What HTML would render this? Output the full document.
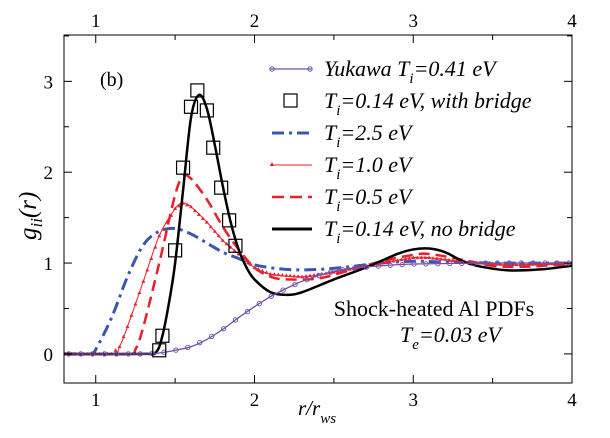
<!DOCTYPE html>
<html><head><meta charset="utf-8"><style>
body{margin:0;background:#fff}
svg text{font-family:"Liberation Serif",serif}
</style></head><body>
<svg id="c" width="610" height="433" xmlns="http://www.w3.org/2000/svg"></svg>
<script>
const xTicks=[1,2,3,4];
const yTicks=[0,1,2,3];
const blackX=[0.8,1.3,1.38,1.42,1.46,1.5,1.55,1.6,1.65,1.7,1.75,1.8,1.85,1.9,1.95,2.0,2.1,2.2,2.3,2.5,2.7,2.9,3.0,3.1,3.2,3.3,3.4,3.6,3.8,4.0];
const blackY=[0,0,0.02,0.2,0.55,1.0,1.8,2.6,2.85,2.7,2.3,1.85,1.45,1.15,0.95,0.82,0.68,0.65,0.68,0.82,0.95,1.1,1.15,1.16,1.12,1.03,0.97,0.92,0.93,0.97];
const sqX=[1.40,1.42,1.5,1.55,1.6,1.64,1.7,1.74,1.79,1.84,1.88];
const sqY=[0.04,0.2,1.14,2.05,2.72,2.9,2.68,2.27,1.83,1.47,1.19];
const blueX=[0.8,0.97,1.0,1.1,1.2,1.3,1.4,1.5,1.6,1.7,1.8,1.9,2.0,2.2,2.4,2.6,2.8,3.0,3.2,3.5,4.0];
const blueY=[0,0,0.05,0.4,0.85,1.2,1.35,1.38,1.32,1.22,1.12,1.05,0.98,0.93,0.93,0.96,1.0,1.02,1.01,1.0,1.0];
const tri1X=[0.8,1.1,1.15,1.2,1.3,1.4,1.5,1.55,1.6,1.7,1.8,1.9,2.0,2.1,2.3,2.5,2.8,3.0,3.1,3.3,3.6,4.0];
const tri1Y=[0,0,0.08,0.3,0.8,1.3,1.6,1.66,1.62,1.45,1.25,1.1,0.95,0.88,0.85,0.9,1.0,1.06,1.06,1.02,0.98,1.0];
const d05X=[0.8,1.2,1.25,1.3,1.4,1.5,1.55,1.6,1.7,1.8,1.9,2.0,2.1,2.2,2.4,2.6,2.8,3.0,3.1,3.3,3.5,3.7,4.0];
const d05Y=[0,0,0.05,0.3,1.0,1.75,1.95,1.93,1.7,1.4,1.15,0.95,0.85,0.82,0.83,0.92,1.02,1.09,1.1,1.04,0.97,0.96,0.99];
const yukX=[0.8,1.3,1.4,1.5,1.6,1.7,1.8,1.9,2.0,2.1,2.2,2.3,2.4,2.5,2.6,2.8,3.0,3.5,4.0];
const yukY=[0,0,0.01,0.04,0.08,0.16,0.27,0.4,0.52,0.63,0.72,0.8,0.86,0.91,0.94,0.97,0.99,1.0,1.0];

const L=64,R=572,T=35,B=383,X0=0.8,X1=4,Y0=-0.32,Y1=3.51;
const sx=v=>L+(v-X0)/(X1-X0)*(R-L);
const sy=v=>B-(v-Y0)/(Y1-Y0)*(B-T);
const svg=document.getElementById('c');
const NS='http://www.w3.org/2000/svg';
function mk(tag,attrs,parent){const e=document.createElementNS(NS,tag);for(const k in attrs)e.setAttribute(k,attrs[k]);(parent||svg).appendChild(e);return e;}
function smooth(xs,ys){
  const p=xs.map((x,i)=>[sx(x),sy(ys[i])]);let d='M'+p[0][0]+','+p[0][1];
  for(let i=0;i<p.length-1;i++){const p0=p[Math.max(0,i-1)],p1=p[i],p2=p[i+1],p3=p[Math.min(p.length-1,i+2)];
    const c1=[p1[0]+(p2[0]-p0[0])/6,p1[1]+(p2[1]-p0[1])/6],c2=[p2[0]-(p3[0]-p1[0])/6,p2[1]-(p3[1]-p1[1])/6];
    d+=`C${c1[0]},${c1[1]} ${c2[0]},${c2[1]} ${p2[0]},${p2[1]}`;}
  return d;}
function interp(xs,ys,x){for(let i=0;i<xs.length-1;i++){if(x>=xs[i]&&x<=xs[i+1]){const t=(x-xs[i])/(xs[i+1]-xs[i]);return ys[i]+t*(ys[i+1]-ys[i]);}}return ys[ys.length-1];}
const defs=mk('defs',{});const cp=mk('clipPath',{id:'clip'},defs);mk('rect',{x:L,y:T,width:R-L,height:B-T},cp);
const g=mk('g',{'clip-path':'url(#clip)'});

let e;
e=mk('path',{d:smooth(blueX,blueY),fill:'none',stroke:'#3a56b0','stroke-width':3,'stroke-dasharray':'12,5,3,5'},g);

e=mk('path',{d:smooth(d05X,d05Y),fill:'none',stroke:'#e8202a','stroke-width':2.5,'stroke-dasharray':'11,6'},g);

e=mk('path',{d:smooth(tri1X,tri1Y),fill:'none',stroke:'#e8202a','stroke-width':1},g);

for(let x=0.8;x<=4.001;x+=0.025){const y=interp(tri1X,tri1Y,x);const cx=sx(x),cy=sy(y);
  e=mk('path',{d:`M${cx-2},${cy+1.5}L${cx+2},${cy+1.5}L${cx},${cy-2}Z`,fill:'#e8202a'},g);
  }
e=mk('path',{d:smooth(blackX,blackY),fill:'none',stroke:'#000','stroke-width':2.5},g);

e=mk('path',{d:smooth(yukX,yukY),fill:'none',stroke:'#7050a8','stroke-width':1.3},g);

for(let x=0.83;x<=4.001;x+=0.075){const y=interp(yukX,yukY,x);
  e=mk('circle',{cx:sx(x),cy:sy(y),r:2.2,fill:'none',stroke:'#7050a8','stroke-width':0.9},g);
  }
sqX.forEach((x,i)=>{e=mk('rect',{x:sx(x)-6.5,y:sy(sqY[i])-6.5,width:13,height:13,fill:'none',stroke:'#000','stroke-width':1.2},g);
  });

e=mk('rect',{x:L,y:T,width:R-L,height:B-T,fill:'none',stroke:'#000','stroke-width':1});

for(let v=1;v<=4;v+=0.5){const x=sx(v),len=(v%1===0)?8:5;
  mk('line',{x1:x,y1:B,x2:x,y2:B-len,stroke:'#000'});mk('line',{x1:x,y1:T,x2:x,y2:T+len,stroke:'#000'});}
for(let v=0;v<=3.5;v+=0.5){const y=sy(v),len=(v%1===0)?8:5;
  mk('line',{x1:L,y1:y,x2:L+len,y2:y,stroke:'#000'});mk('line',{x1:R,y1:y,x2:R-len,y2:y,stroke:'#000'});}
xTicks.forEach(v=>{
  e=mk('text',{x:sx(v),y:406,'font-size':19,'text-anchor':'middle'});e.textContent=v;
  
  e=mk('text',{x:sx(v),y:27,'font-size':19,'text-anchor':'middle'});e.textContent=v;
  });
yTicks.forEach(v=>{e=mk('text',{x:53,y:sy(v)+7,'font-size':19,'text-anchor':'end'});e.textContent=v;
  });
</script>
<svg width="610" height="433" style="position:absolute;left:0;top:0" xmlns="http://www.w3.org/2000/svg">
<g font-family="'Liberation Serif', serif">
<text x="298" y="415" font-size="21" font-style="italic">r/r<tspan font-size="15" dy="8">ws</tspan></text>
<text transform="translate(36,240) rotate(-90)" font-size="25" font-style="italic">g<tspan font-size="17" dy="6">ii</tspan><tspan dy="-6">(r)</tspan></text>
<text x="100" y="86" font-size="20">(b)</text>
<text x="434" y="316" font-size="22" text-anchor="middle">Shock-heated Al PDFs</text>
<text x="400" y="342" font-size="22" font-style="italic">T<tspan font-size="15" dy="7">e</tspan><tspan dy="-7">=0.03 eV</tspan></text>
<g font-size="22" font-style="italic">
<line x1="270" y1="69" x2="312" y2="69" stroke="#7050a8" stroke-width="1.3"/><circle cx="272" cy="69" r="2.2" fill="none" stroke="#7050a8"/><circle cx="310" cy="69" r="2.2" fill="none" stroke="#7050a8"/>
<text x="324" y="76">Yukawa T<tspan font-size="15" dy="7">i</tspan><tspan dy="-7">=0.41 eV</tspan></text>
<rect x="284" y="94" width="13" height="13" fill="none" stroke="#000" stroke-width="1.2"/>
<text x="324" y="108">T<tspan font-size="15" dy="7">i</tspan><tspan dy="-7">=0.14 eV, with bridge</tspan></text>
<line x1="272" y1="133" x2="312" y2="133" stroke="#3a56b0" stroke-width="3" stroke-dasharray="12,5,3,5"/>
<text x="324" y="140">T<tspan font-size="15" dy="7">i</tspan><tspan dy="-7">=2.5 eV</tspan></text>
<line x1="270" y1="165" x2="312" y2="165" stroke="#e8202a" stroke-width="1"/><path d="M270,166L274,166L272,162Z" fill="#e8202a"/>
<text x="324" y="172">T<tspan font-size="15" dy="7">i</tspan><tspan dy="-7">=1.0 eV</tspan></text>
<line x1="272" y1="197" x2="312" y2="197" stroke="#e8202a" stroke-width="2.5" stroke-dasharray="12,6"/>
<text x="324" y="204">T<tspan font-size="15" dy="7">i</tspan><tspan dy="-7">=0.5 eV</tspan></text>
<line x1="272" y1="229" x2="312" y2="229" stroke="#000" stroke-width="3"/>
<text x="324" y="236">T<tspan font-size="15" dy="7">i</tspan><tspan dy="-7">=0.14 eV,  no bridge</tspan></text>
</g></g></svg>
</body></html>
